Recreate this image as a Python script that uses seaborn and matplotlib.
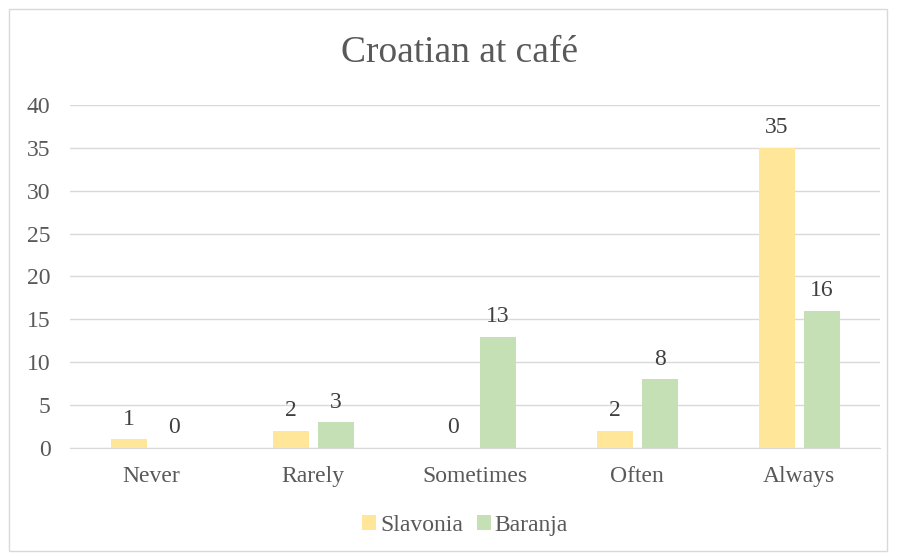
import pandas as pd
import matplotlib.pyplot as plt
import seaborn as sns
from matplotlib.patches import Rectangle

# Data
categories = ['Never', 'Rarely', 'Sometimes', 'Often', 'Always']
slavonia = [1, 2, 0, 2, 35]
baranja = [0, 3, 13, 8, 16]
regions = ['Slavonia', 'Baranja']

df = pd.DataFrame({
    'answer': categories * 2,
    'count': slavonia + baranja,
    'region': [regions[0]] * len(categories) + [regions[1]] * len(categories),
})

sns.set_style('white')
plt.rcParams['font.family'] = ['Liberation Serif', 'DejaVu Serif']

fig = plt.figure(figsize=(8.98, 5.58), dpi=100)
ax = fig.add_axes([0.078, 0.197, 0.902, 0.615])

sns.barplot(data=df, x='answer', y='count', hue='region', order=categories,
            hue_order=regions, palette=['#FFE699', '#C5E0B4'], saturation=1,
            linewidth=0, width=0.556, gap=0.2, ax=ax, legend=True)

# Data labels
for cont in ax.containers:
    ax.bar_label(cont, fmt='%g', padding=7, fontsize=17, color='#404040')

ax.set_ylim(0, 40)
ax.set_yticks(range(0, 41, 5))
ax.set_xlim(-0.5, 4.5)
ax.yaxis.grid(True, color='#D9D9D9', linewidth=1)
ax.set_axisbelow(True)
for s in ['left', 'right', 'top']:
    ax.spines[s].set_visible(False)
ax.spines['bottom'].set_color('#D9D9D9')
ax.tick_params(axis='both', length=0, labelsize=17, labelcolor='#595959')
ax.tick_params(axis='y', pad=14)
ax.tick_params(axis='x', pad=13)
ax.set_xlabel('')
ax.set_ylabel('')

fig.text(0.512, 0.905, 'Croatian at café', ha='center', va='center',
         fontsize=27, color='#595959')

ax.legend(loc='center', bbox_to_anchor=(0.518, 0.058), bbox_transform=fig.transFigure,
          ncol=2, frameon=False, fontsize=17, handlelength=0.6, handleheight=0.6,
          handletextpad=0.15, columnspacing=0.6, labelcolor='#595959')

# Chart border
fig.patches.append(Rectangle((0.01, 0.012), 0.978, 0.972, transform=fig.transFigure,
                             fill=False, edgecolor='#D9D9D9', linewidth=1))

fig.savefig('out.png', dpi=100)
